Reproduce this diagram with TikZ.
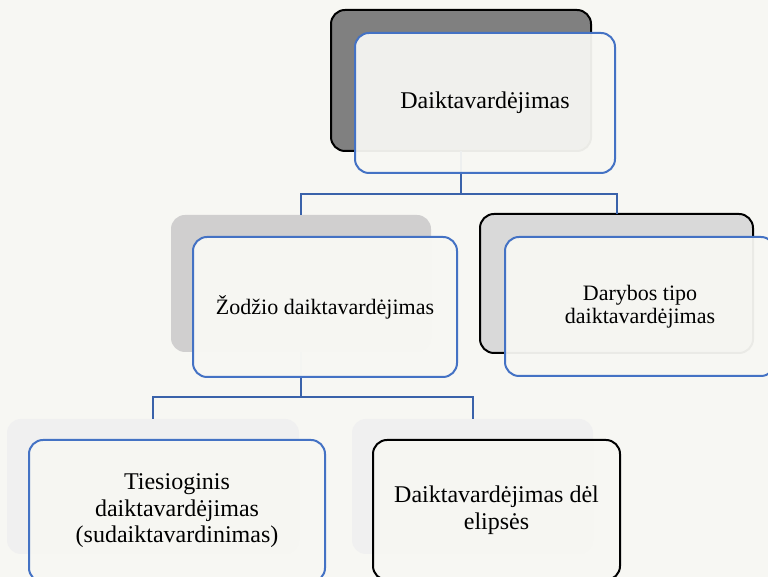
\documentclass[tikz,border=0pt]{standalone}
\usepackage{fontspec}
\setmainfont{Liberation Serif}
\definecolor{bgc}{HTML}{F7F7F3}
\definecolor{bluebd}{HTML}{4472C4}
\definecolor{connc}{HTML}{3A62AA}
\definecolor{shdark}{HTML}{808080}
\definecolor{shmid}{HTML}{D0CFCF}
\definecolor{shmidb}{HTML}{D9D9D9}
\definecolor{shlight}{HTML}{F0F0F0}
\tikzset{
  box/.style={rectangle, rounded corners=14pt, inner sep=0pt, outer sep=0pt, line width=2pt, align=center},
  shadowbox/.style={box},
  frontbox/.style={box, draw=bluebd, fill=bgc, fill opacity=0.95, text opacity=1},
  conn/.style={draw=connc, line width=2pt},
  bigtxt/.style={font=\fontsize{24}{26.5}\selectfont},
  midtxt/.style={font=\fontsize{22}{23.5}\selectfont},
}
\begin{document}
\begin{tikzpicture}[x=1pt,y=1pt]
\fill[bgc] (0,0) rectangle (768,577);
\useasboundingbox (0,0) rectangle (768,577);

% shadow boxes
\node[shadowbox, draw=black, fill=shdark, minimum width=260pt, minimum height=141pt] (s0) at (461,496.5) {};
\node[shadowbox, fill=shmid, minimum width=260pt, minimum height=137pt] (s1) at (301,293.5) {};
\node[shadowbox, draw=black, fill=shmidb, minimum width=273pt, minimum height=139pt] (s2) at (616.5,293.5) {};
\node[shadowbox, fill=shlight, minimum width=292pt, minimum height=135pt] (s3) at (153,90.5) {};
\node[shadowbox, fill=shlight, minimum width=241pt, minimum height=135pt] (s4) at (472.5,90.5) {};

% connectors
\coordinate (b1) at (0,383);
\coordinate (b2) at (0,180);
\draw[conn] (s0.south) -- (s0.south |- b1) -| (s1.north);
\draw[conn] (s0.south |- b1) -| (s2.north);
\draw[conn] (s1.south) -- (s1.south |- b2) -| (s3.north);
\draw[conn] (s1.south |- b2) -| (s4.north);

% front boxes
\node[frontbox, bigtxt, minimum width=260pt, minimum height=140pt] (f0) at (485,474) {Daiktavardėjimas};
\node[frontbox, midtxt, fill opacity=0.99, minimum width=264pt, minimum height=140pt] (f1) at (325,270) {Žodžio daiktavardėjimas};
\node[frontbox, midtxt, minimum width=270pt, minimum height=139pt] (f2) at (640,270.5) {Darybos tipo\\daiktavardėjimas};
\node[frontbox, bigtxt, minimum width=296pt, minimum height=142pt] (f3) at (177,66) {Tiesioginis\\daiktavardėjimas\\(sudaiktavardinimas)};
\node[frontbox, draw=black, bigtxt, minimum width=247pt, minimum height=140pt] (f4) at (496.5,67) {Daiktavardėjimas dėl\\elipsės};
\end{tikzpicture}
\end{document}
